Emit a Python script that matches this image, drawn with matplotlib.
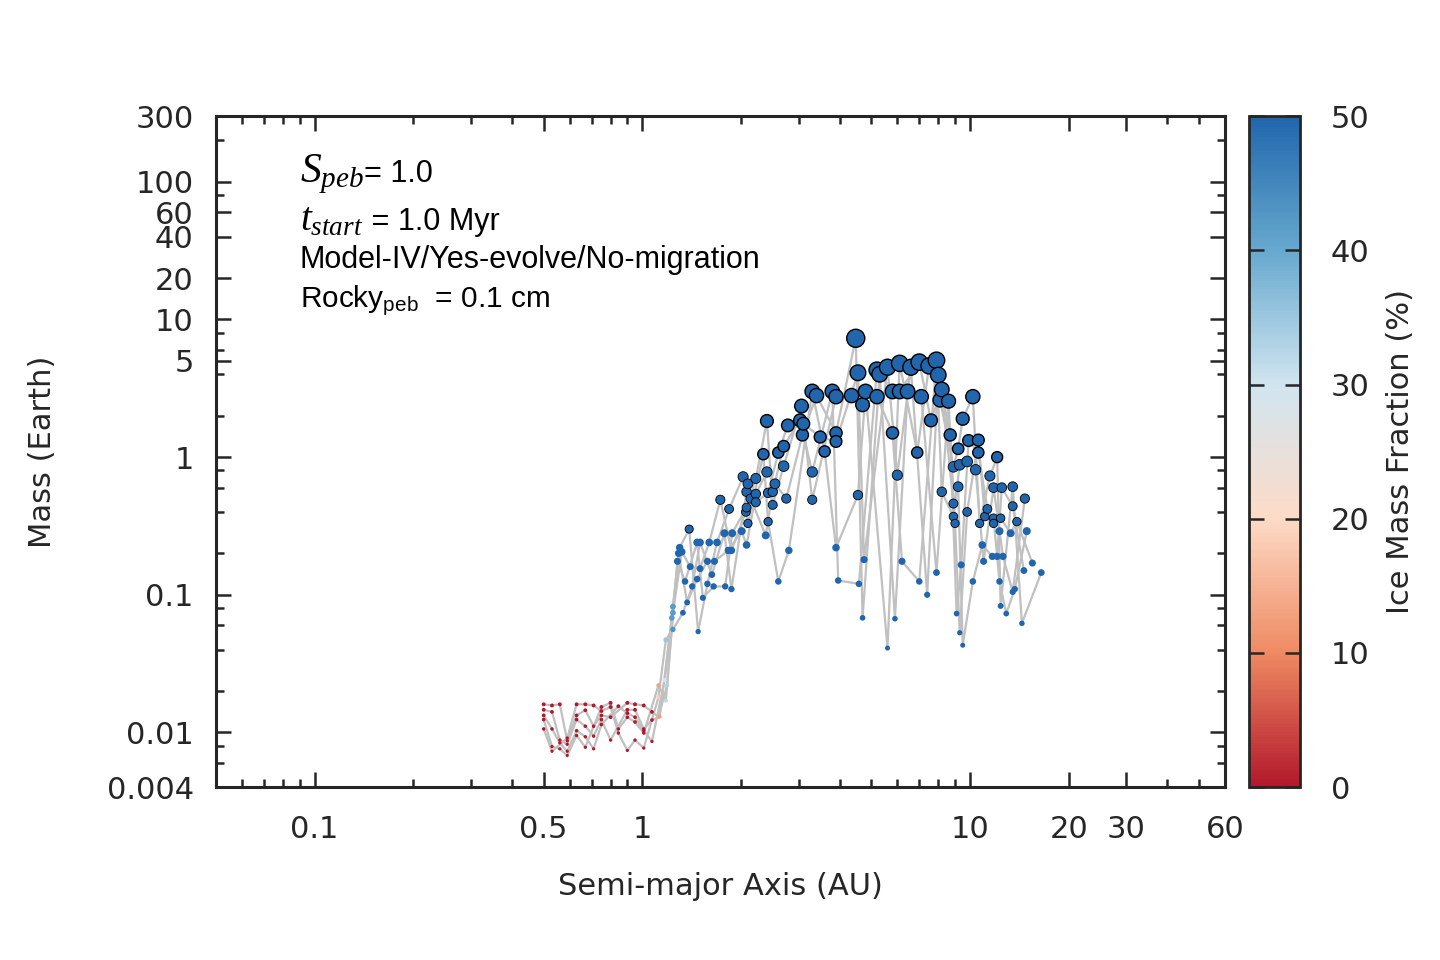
import numpy as np
import matplotlib.pyplot as plt
from matplotlib.colors import LinearSegmentedColormap
from matplotlib.ticker import FixedLocator, FixedFormatter, NullFormatter
from matplotlib.offsetbox import TextArea, HPacker, AnchoredOffsetbox

plt.rcParams['mathtext.fontset'] = 'custom'
plt.rcParams['mathtext.rm'] = 'Liberation Sans'
plt.rcParams['mathtext.it'] = 'Liberation Serif:italic'
plt.rcParams['mathtext.bf'] = 'Liberation Sans:bold'

TXT = '#262626'

# ---- data ----
# rocky embryos inside ~1 AU: one column per starting location, masses in M_earth
rocky_cols_a = [0.50, 0.53, 0.56, 0.59, 0.63, 0.67, 0.71, 0.75, 0.80, 0.845, 0.90, 0.95, 1.01, 1.07]
rocky_cols_m = [
    [0.0160, 0.0146, 0.0133, 0.0124, 0.0106],
    [0.0157, 0.0141, 0.0106, 0.0079, 0.0073],
    [0.0160, 0.0088, 0.0084, 0.0076],
    [0.0091, 0.0087, 0.0082, 0.0073, 0.0068],
    [0.0160, 0.0133, 0.0124, 0.0103, 0.0095],
    [0.0160, 0.0145, 0.0111, 0.0093, 0.0078],
    [0.0157, 0.0111, 0.0094, 0.0076],
    [0.0153, 0.0143, 0.0133, 0.0124, 0.0114],
    [0.0164, 0.0153, 0.0129, 0.0088],
    [0.0155, 0.0106, 0.0099],
    [0.0164, 0.0146, 0.0138, 0.0129, 0.0074],
    [0.0160, 0.0146, 0.0129, 0.0119, 0.0088],
    [0.0157, 0.0106, 0.0103, 0.0099, 0.0077],
    [0.0141, 0.0123, 0.0086],
]
rocky_ice = 0.0

# snow-line transition
trans_a = [1.12, 1.12, 1.12, 1.13, 1.17, 1.19, 1.18, 1.18, 1.24, 1.24, 1.23, 1.24]
trans_m = [0.022, 0.018, 0.013, 0.013, 0.024, 0.022, 0.017, 0.047, 0.082, 0.074, 0.068, 0.056]
trans_ice = [13, 18, 14, 12, 30, 33, 32, 35, 42, 42, 42, 43]

# icy planets beyond the snow line
icy_a = [1.39, 1.47, 1.30, 1.32, 1.29, 1.28, 1.40, 1.35, 1.42, 1.47, 1.37, 1.33, 1.48, 1.53, 1.50,
         4.48, 4.55, 3.30, 3.40, 3.80, 3.90, 4.35, 4.80, 4.70, 3.06, 2.40, 2.78, 3.03, 3.10, 3.08,
         3.49, 3.90, 3.90, 3.60, 2.70, 2.60, 2.34, 2.70, 2.40, 3.30, 2.03, 2.22, 2.10, 2.54, 2.08,
         2.22, 2.42, 2.50, 1.73, 2.14, 2.22, 2.75, 3.30, 4.55, 2.08, 2.50, 1.84, 2.07, 2.10, 2.42,
         1.88, 1.78, 2.01, 2.38, 1.60, 1.69, 1.50, 1.83, 1.87, 2.08, 2.80, 3.90, 1.58, 1.66, 1.63,
         2.60, 3.96, 1.58, 1.65, 1.79, 1.87, 4.58, 4.75, 4.70,
         5.2, 6.1, 7.0, 7.9, 8.0, 8.2, 5.3, 5.6, 6.6, 7.5,
         5.8, 6.1, 6.45, 5.2, 7.1, 8.1, 8.6, 10.2,
         7.6, 9.5, 5.8, 8.7, 9.2, 9.9, 10.6, 10.6, 6.9, 8.9, 9.3, 9.8, 10.4, 6.0, 12.1, 11.5,
         9.2, 11.8, 12.5, 13.5, 8.2, 14.7, 8.9, 13.5, 11.3, 9.8, 8.9, 9.0, 11.1, 11.8, 12.4,
         10.7, 11.8, 13.9, 14.9, 12.3, 13.3, 10.9, 11.7, 12.1, 12.6, 11.0, 6.2, 15.5, 9.4, 14.6,
         7.9, 16.5, 10.2, 12.3, 7.0, 7.4, 13.5, 13.7, 12.4, 12.9, 9.1, 5.9, 14.4, 9.3, 9.5, 5.6]
icy_m = [0.30, 0.24, 0.22, 0.205, 0.20, 0.175, 0.16, 0.125, 0.115, 0.13, 0.088, 0.074, 0.054, 0.095, 0.155,
         7.3, 4.1, 3.0, 2.8, 3.0, 2.75, 2.8, 3.0, 2.4, 2.35, 1.83, 1.7, 1.85, 1.75, 1.45,
         1.4, 1.5, 1.3, 1.1, 1.2, 1.08, 1.05, 0.86, 0.78, 0.78, 0.72, 0.70, 0.64, 0.64, 0.56,
         0.54, 0.55, 0.56, 0.49, 0.50, 0.47, 0.50, 0.49, 0.53, 0.43, 0.45, 0.42, 0.40, 0.33, 0.34,
         0.28, 0.28, 0.29, 0.27, 0.24, 0.24, 0.24, 0.21, 0.21, 0.23, 0.21, 0.22, 0.175, 0.175, 0.14,
         0.125, 0.127, 0.12, 0.115, 0.115, 0.11, 0.12, 0.18, 0.068,
         4.3, 4.8, 4.9, 5.05, 3.95, 3.1, 4.0, 4.5, 4.5, 4.6,
         3.0, 3.0, 3.0, 2.75, 2.75, 2.6, 2.55, 2.75,
         1.85, 1.9, 1.5, 1.45, 1.15, 1.32, 1.33, 1.08, 1.08, 0.85, 0.88, 0.93, 0.81, 0.74, 1.0, 0.73,
         0.61, 0.60, 0.60, 0.61, 0.56, 0.50, 0.46, 0.44, 0.42, 0.40, 0.37, 0.33, 0.37, 0.36, 0.36,
         0.33, 0.33, 0.34, 0.29, 0.29, 0.28, 0.23, 0.19, 0.19, 0.19, 0.175, 0.175, 0.17, 0.165, 0.15,
         0.145, 0.145, 0.125, 0.125, 0.125, 0.10, 0.105, 0.11, 0.083, 0.073, 0.073, 0.067, 0.062, 0.053, 0.043, 0.041]
icy_ice = 50.0

n_runs = 5

# axis ticks
x_major = [0.1, 0.5, 1, 10, 20, 30, 60]
x_major_lbl = ['0.1', '0.5', '1', '10', '20', '30', '60']
x_minor = [0.06, 0.07, 0.08, 0.09, 0.2, 0.3, 0.4, 0.6, 0.7, 0.8, 0.9,
           2, 3, 4, 5, 6, 7, 8, 9, 40, 50]
y_major = [0.004, 0.01, 0.1, 1, 5, 10, 20, 40, 60, 100, 300]
y_major_lbl = ['0.004', '0.01', '0.1', '1', '5', '10', '20', '40', '60', '100', '300']
y_minor = [0.006, 0.008, 0.02, 0.04, 0.06, 0.08, 0.2, 0.4, 0.6, 0.8,
           2, 4, 6, 8, 80, 200]
cbar_ticks = [0, 10, 20, 30, 40, 50]

# 6-class RdBu, interpolated
cmap_colors = ['#b2182b', '#ef8a62', '#fddbc7', '#d1e5f0', '#67a9cf', '#2166ac']

# ---- assemble ----
r_a = np.concatenate([[a] * len(ms) for a, ms in zip(rocky_cols_a, rocky_cols_m)])
r_m = np.concatenate(rocky_cols_m)
semi = np.concatenate([r_a, trans_a, icy_a])
mass = np.concatenate([r_m, trans_m, icy_m])
ice = np.concatenate([np.full(len(r_a), rocky_ice), trans_ice, np.full(len(icy_a), icy_ice)])

order = np.argsort(semi, kind='stable')
semi, mass, ice = semi[order], mass[order], ice[order]
run = np.arange(len(semi)) % n_runs

cmap = LinearSegmentedColormap.from_list('ice_rdbu', cmap_colors)

fig = plt.figure(figsize=(7.2, 4.8), dpi=200)
ax = fig.add_axes([0.15, 0.18, 0.7007, 0.699])
cax = fig.add_axes([0.8674, 0.18, 0.0354, 0.699])

for k in range(n_runs):
    sel = run == k
    ax.plot(semi[sel], mass[sel], color='#c0c0c0', lw=0.8, zorder=1)

sizes = 15.7 * mass ** 0.5
edge_lw = np.where(mass >= 1.0, 0.5, np.where(mass >= 0.3, 0.3, 0.0))
sc = ax.scatter(semi, mass, c=ice, cmap=cmap, vmin=0, vmax=50, s=sizes,
                edgecolors='k', linewidths=edge_lw, zorder=3)

ax.set_xscale('log')
ax.set_yscale('log')
ax.set_xlim(0.05, 60)
ax.set_ylim(0.004, 300)
ax.xaxis.set_major_locator(FixedLocator(x_major))
ax.xaxis.set_major_formatter(FixedFormatter(x_major_lbl))
ax.xaxis.set_minor_locator(FixedLocator(x_minor))
ax.xaxis.set_minor_formatter(NullFormatter())
ax.yaxis.set_major_locator(FixedLocator(y_major))
ax.yaxis.set_major_formatter(FixedFormatter(y_major_lbl))
ax.yaxis.set_minor_locator(FixedLocator(y_minor))
ax.yaxis.set_minor_formatter(NullFormatter())

ax.tick_params(which='both', direction='in', top=True, right=True,
               color=TXT, labelcolor=TXT, labelsize=11, width=0.9)
ax.tick_params(which='major', length=5.4)
ax.tick_params(which='minor', length=2.9)
ax.tick_params(axis='x', which='major', pad=10)
ax.tick_params(axis='y', which='major', pad=8)
for sp in ax.spines.values():
    sp.set_linewidth(1.1)
    sp.set_color(TXT)

ax.set_xlabel('Semi-major Axis (AU)', fontsize=11, color=TXT, labelpad=10)
ax.set_ylabel('Mass (Earth)', fontsize=11, color=TXT, labelpad=18)


def add_label(parts, y):
    # parts: list of (text, fontsize); packed on a common baseline
    boxes = [TextArea(t, textprops=dict(fontsize=fs, family='Liberation Sans', color='black'))
             for t, fs in parts]
    pack = HPacker(children=boxes, align='baseline', pad=0, sep=0)
    anchored = AnchoredOffsetbox(loc='center left', child=pack, pad=0, borderpad=0,
                                 frameon=False, bbox_to_anchor=(0.083, y),
                                 bbox_transform=ax.transAxes)
    ax.add_artist(anchored)


add_label([(r'$S_{peb}$', 15), ('= 1.0', 11)], 0.915)
add_label([(r'$t_{start}$', 14), (' = 1.0 Myr', 11)], 0.845)
add_label([('Model-IV/Yes-evolve/No-migration', 11)], 0.785)
add_label([(r'Rocky$_{\mathrm{peb}}$  = 0.1 cm', 10.7)], 0.724)

cb = fig.colorbar(sc, cax=cax)
cb.set_ticks(cbar_ticks)
cb.ax.minorticks_off()
cax.tick_params(direction='in', left=True, right=True, length=5.4, width=0.9,
                color=TXT, labelcolor=TXT, labelsize=11, pad=11)
cb.outline.set_linewidth(1.0)
cb.outline.set_edgecolor(TXT)
cb.set_label('Ice Mass Fraction (%)', fontsize=11, color=TXT, labelpad=6)

fig.savefig('out.png', dpi=200)
